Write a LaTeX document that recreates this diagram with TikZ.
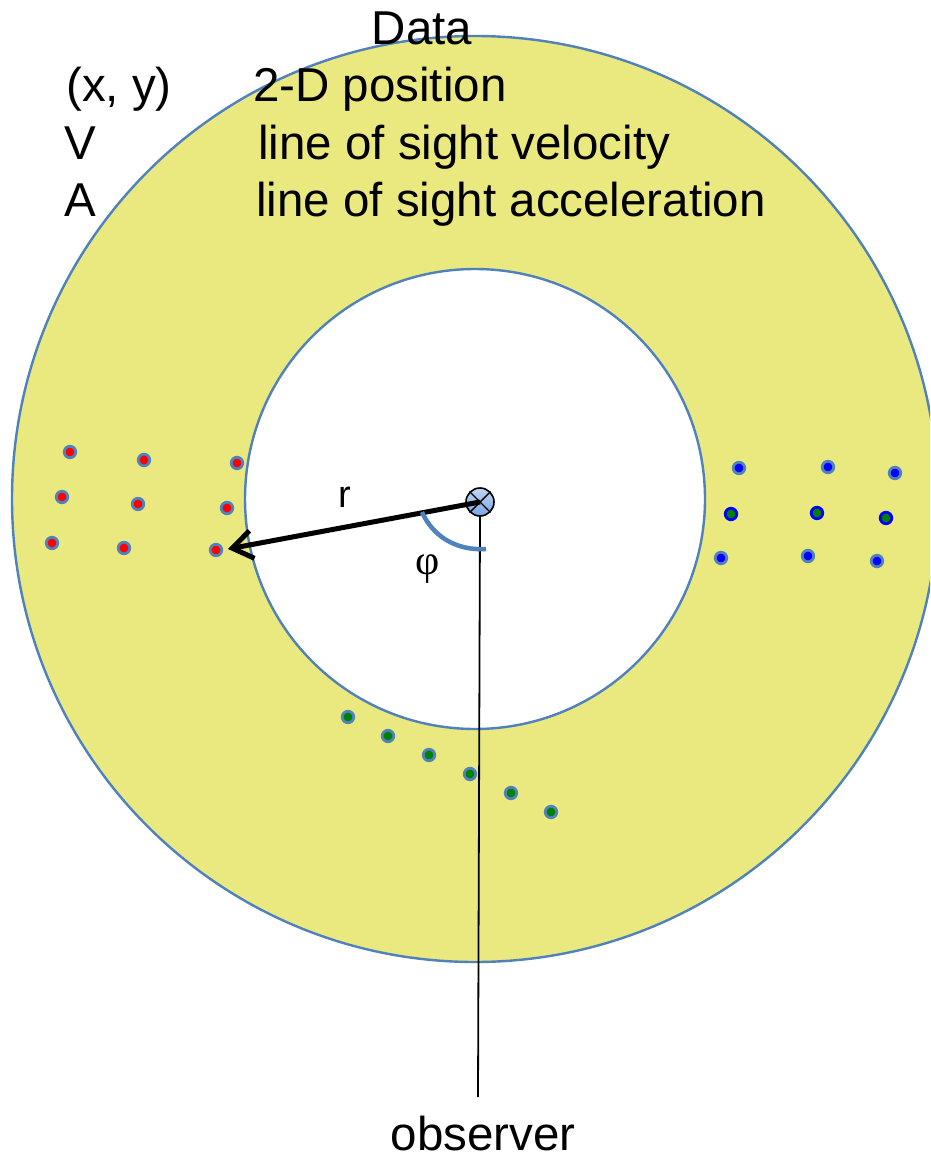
\documentclass[tikz,border=0pt]{standalone}
\usepackage{fontspec}
\setmainfont{Liberation Sans}
\newfontfamily\phifont{Liberation Serif}
\usetikzlibrary{positioning, arrows.meta}

\definecolor{ringblue}{RGB}{79,129,189}
\definecolor{diskyellow}{RGB}{233,233,128}
\definecolor{markblue}{RGB}{120,165,225}
\definecolor{dotgreen}{RGB}{0,128,0}

\tikzset{
    bigtext/.style={font=\fontsize{47.5}{56}\selectfont, inner sep=0pt, anchor=base west},
    stardot/.style={circle, draw=ringblue, line width=2.8pt, inner sep=0pt, minimum size=11.5pt},
    reddot/.style={stardot, fill=red},
    bluedot/.style={stardot, fill=blue},
    greendot/.style={stardot, fill=dotgreen},
    mixdot/.style={stardot, draw=blue, fill=dotgreen}
}

\begin{document}
\begin{tikzpicture}[x=1pt, y=-1pt]
    \useasboundingbox (0,0) rectangle (930,1158);
    \clip (0,0) rectangle (930,1158);
    \fill[white] (0,0) rectangle (930,1158);

    % Disk
    \fill[diskyellow, even odd rule] (475,499) circle[radius=463pt] (475,499) circle[radius=230pt];
    \draw[ringblue, line width=2.4pt] (475,499) circle[radius=463pt];
    \draw[ringblue, line width=2.4pt] (475,499) circle[radius=230pt];

    % Data legend
    \node[bigtext, anchor=base] (datatitle) at (422,45) {Data};
    \node[bigtext] (posvar) at (66,102) {(x, y)};
    \node[bigtext] (posdesc) at (253,102) {2-D position};
    \node[bigtext] (velvar) at (64,160) {V};
    \node[bigtext] (veldesc) at (258,160) {line of sight velocity};
    \node[bigtext] (accvar) at (64,217) {A};
    \node[bigtext] (accdesc) at (256,217) {line of sight acceleration};

    % Stars
    \foreach \x/\y [count=\i] in {70/452, 144/460, 237/463, 62/497, 138/504, 227/508, 52/543, 124/548, 216/550}
        \node[reddot] (red\i) at (\x,\y) {};
    \foreach \x/\y [count=\i] in {739/468, 828/467, 895/473, 721/558, 808/556, 877/561}
        \node[bluedot] (blue\i) at (\x,\y) {};
    \foreach \x/\y [count=\i] in {731/514, 817/513, 886/518}
        \node[mixdot] (mix\i) at (\x,\y) {};
    \foreach \x/\y [count=\i] in {348/717, 388/736, 429/755, 470/774, 511/793, 551/812}
        \node[greendot] (green\i) at (\x,\y) {};

    % Observer
    \coordinate (rtip) at (228,549);
    \coordinate (sightend) at (478,1097);
    \node[circle, draw, line width=1.6pt, inner sep=0pt, minimum size=28pt,
          top color=markblue!45, bottom color=markblue] (obs) at (480,502) {};
    \draw[line width=1.4pt] (obs.45) -- (obs.225);
    \draw[line width=1.4pt] (obs.135) -- (obs.315);
    \draw[line width=1.8pt] (obs.south) -- (sightend);
    \node[font=\fontsize{47.5}{56}\selectfont, inner sep=0pt, anchor=base] (obslabel) at (483,1150) {observer};

    % Radius and angle
    \draw[line width=5pt, -{Straight Barb[length=20pt, width=28pt]}] (obs.center) -- (rtip);
    \node[font=\fontsize{38}{46}\selectfont, inner sep=0pt, anchor=base] (rlabel) at (345,507) {r};
    \draw[ringblue, line width=4.5pt] (422,512) .. controls (432,535) and (455,551) .. (486,549);
    \node[font=\phifont\fontsize{42}{50}\selectfont, inner sep=0pt] (philabel) at (428,569) {φ};
\end{tikzpicture}
\end{document}
